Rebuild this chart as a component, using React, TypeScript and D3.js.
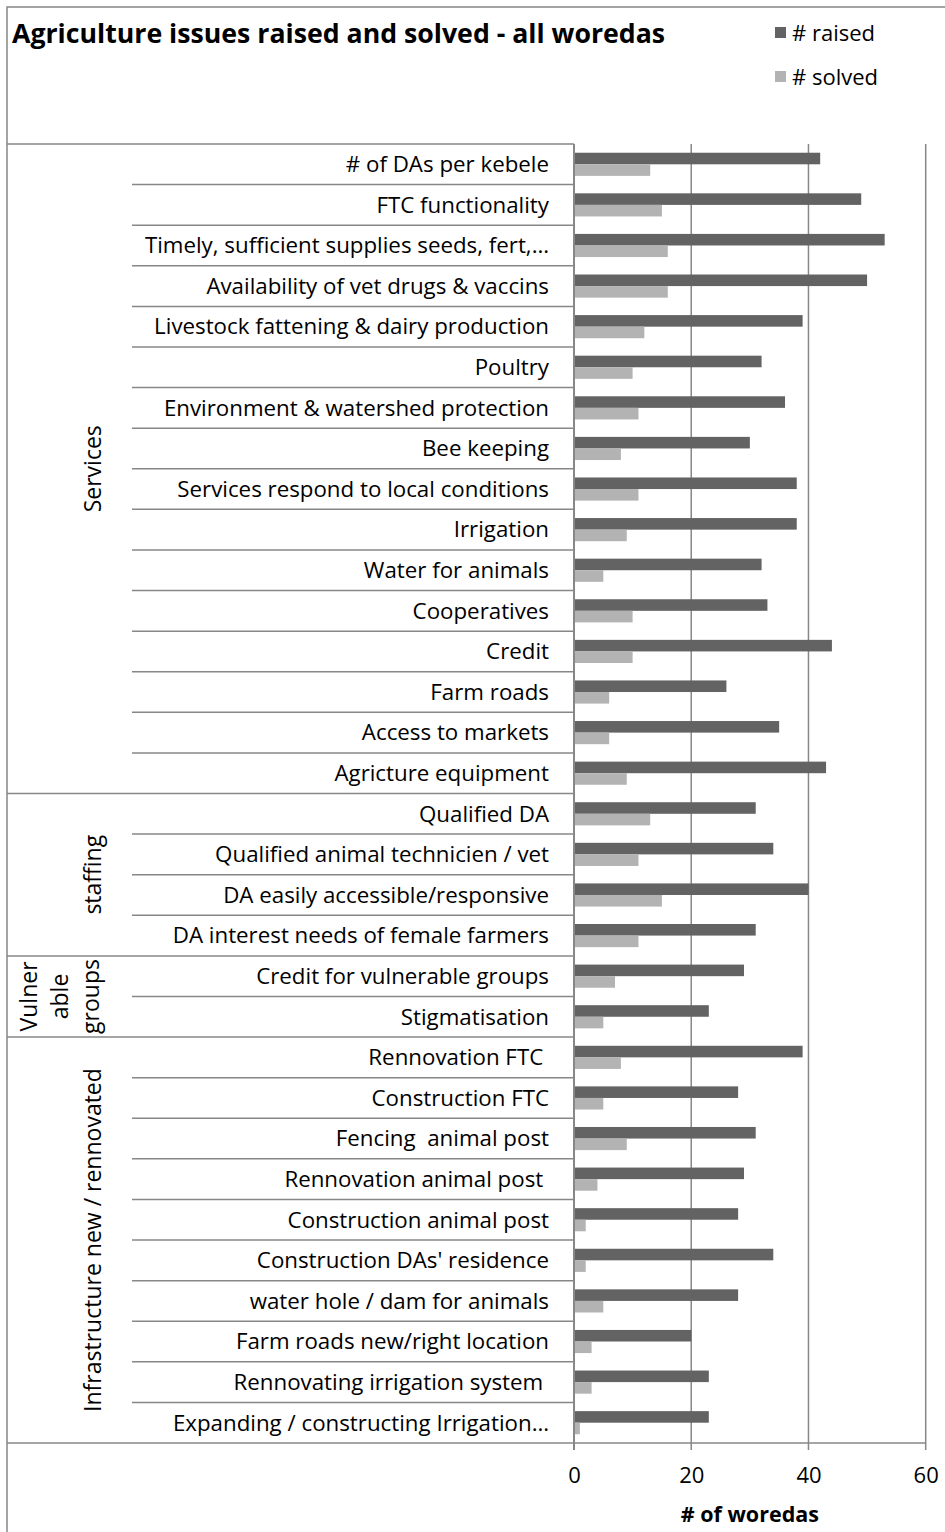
import * as d3 from "d3";
import { useRef, useEffect } from "react";

const categories = [
  "# of DAs per kebele",
  "FTC functionality",
  "Timely, sufficient supplies seeds, fert,…",
  "Availability of vet drugs & vaccins",
  "Livestock fattening & dairy production",
  "Poultry",
  "Environment & watershed protection",
  "Bee keeping",
  "Services respond to local conditions",
  "Irrigation",
  "Water for animals",
  "Cooperatives",
  "Credit",
  "Farm roads",
  "Access to markets",
  "Agricture equipment",
  "Qualified DA",
  "Qualified animal technicien / vet",
  "DA easily accessible/responsive",
  "DA interest needs of female farmers",
  "Credit for vulnerable groups",
  "Stigmatisation",
  "Rennovation FTC ",
  "Construction FTC",
  "Fencing  animal post",
  "Rennovation animal post ",
  "Construction animal post",
  "Construction DAs' residence",
  "water hole / dam for animals",
  "Farm roads new/right location",
  "Rennovating irrigation system ",
  "Expanding / constructing Irrigation…",
];

const raised = [42, 49, 53, 50, 39, 32, 36, 30, 38, 38, 32, 33, 44, 26, 35, 43, 31, 34, 40, 31, 29, 23, 39, 28, 31, 29, 28, 34, 28, 20, 23, 23];
const solved = [13, 15, 16, 16, 12, 10, 11, 8, 11, 9, 5, 10, 10, 6, 6, 9, 13, 11, 15, 11, 7, 5, 8, 5, 9, 4, 2, 2, 5, 3, 3, 1];

// groups: label lines, first row index, row count
const groups = [
  { lines: ["Services"], start: 0, count: 16 },
  { lines: ["staffing"], start: 16, count: 4 },
  { lines: ["Vulner", "able", "groups"], start: 20, count: 2 },
  { lines: ["Infrastructure new / rennovated"], start: 22, count: 10 },
];

const xTicks = [0, 20, 40, 60];
const seriesNames = ["# raised", "# solved"];
const colors = ["#636363", "#b3b3b3"];
const lineColor = "#878787";
const font = "'Open Sans', 'Noto Sans', sans-serif";

const App = () => {
  const ref = useRef<SVGSVGElement | null>(null);

  useEffect(() => {
    document.body.style.margin = "0";
    const svg = d3.select(ref.current);
    svg.selectAll("*").remove();

    const W = 945, H = 1532;
    const plot = { left: 574, right: 925.7, top: 144, bottom: 1443 };

    svg.append("rect").attr("width", W).attr("height", H).attr("fill", "#fff");
    // outer border
    svg.append("rect")
      .attr("x", 7).attr("y", 7).attr("width", W + 10).attr("height", H + 10)
      .attr("fill", "none").attr("stroke", lineColor).attr("stroke-width", 1.5);

    const x = d3.scaleLinear().domain([0, 60]).range([plot.left, plot.right]);
    const y = d3.scaleBand<number>()
      .domain(d3.range(categories.length))
      .range([plot.top, plot.bottom])
      .paddingInner(0.43).paddingOuter(0.215);
    const sub = d3.scaleBand<number>().domain([0, 1]).range([0, y.bandwidth()]);
    const step = y.step();
    const rowTop = (i: number) => plot.top + i * step;

    // gridlines
    svg.append("g").selectAll("line").data(xTicks.slice(1)).join("line")
      .attr("x1", d => x(d)).attr("x2", d => x(d))
      .attr("y1", plot.top).attr("y2", plot.bottom + 7)
      .attr("stroke", lineColor).attr("stroke-width", 1.5);

    // bars
    const series = [raised, solved];
    series.forEach((vals, s) => {
      svg.append("g").selectAll("rect").data(vals).join("rect")
        .attr("x", x(0))
        .attr("y", (_, i) => (y(i) as number) + (sub(s) as number))
        .attr("width", d => x(d) - x(0))
        .attr("height", sub.bandwidth())
        .attr("fill", colors[s]);
    });

    // category axis lines
    const groupStarts = new Set(groups.map(g => g.start));
    const cat = svg.append("g");
    for (let i = 0; i <= categories.length; i++) {
      const isGroup = groupStarts.has(i) || i === categories.length;
      cat.append("line")
        .attr("x1", isGroup ? 7 : 132).attr("x2", plot.left)
        .attr("y1", rowTop(i)).attr("y2", rowTop(i))
        .attr("stroke", lineColor).attr("stroke-width", 1.5);
    }
    cat.selectAll("text.cat").data(categories).join("text")
      .attr("class", "cat")
      .attr("x", 549)
      .attr("y", (_, i) => rowTop(i) + step / 2)
      .attr("dy", "0.35em")
      .attr("text-anchor", "end")
      .style("white-space", "pre")
      .attr("font-family", font).attr("font-size", 22.3)
      .attr("fill", "#000")
      .text(d => d);

    // group labels
    groups.forEach(g => {
      const cy = rowTop(g.start) + (g.count * step) / 2;
      const n = g.lines.length;
      g.lines.forEach((line, k) => {
        const cx = n === 1 ? 93 : 29 + k * 31;
        svg.append("text")
          .attr("transform", `translate(${cx},${cy}) rotate(-90)`)
          .attr("text-anchor", "middle")
          .attr("dy", "0.35em")
          .attr("font-family", font).attr("font-size", 23)
          .text(line);
      });
    });

    // value axis
    svg.append("line")
      .attr("x1", x(0)).attr("x2", x(0))
      .attr("y1", plot.top).attr("y2", plot.bottom + 7)
      .attr("stroke", lineColor).attr("stroke-width", 2);
    svg.append("line")
      .attr("x1", x(0)).attr("x2", plot.right)
      .attr("y1", plot.bottom).attr("y2", plot.bottom)
      .attr("stroke", lineColor).attr("stroke-width", 1.5);

    const axis = svg.append("g")
      .attr("transform", `translate(0,${plot.bottom})`)
      .call(d3.axisBottom(x).tickValues(xTicks).tickSize(0).tickPadding(24));
    axis.select(".domain").remove();
    axis.selectAll("text")
      .attr("font-family", font).attr("font-size", 22).attr("fill", "#000");

    svg.append("text")
      .attr("x", (x(0) + plot.right) / 2).attr("y", 1522)
      .attr("text-anchor", "middle")
      .attr("font-family", font).attr("font-size", 21.5).attr("font-weight", "bold")
      .text("# of woredas");

    // title
    svg.append("text")
      .attr("x", 12).attr("y", 43)
      .attr("font-family", font).attr("font-size", 26.7).attr("font-weight", "bold")
      .text("Agriculture issues raised and solved - all woredas");

    // legend
    const legend = svg.append("g");
    seriesNames.forEach((name, s) => {
      const ly = 33 + s * 44;
      legend.append("rect")
        .attr("x", 775).attr("y", ly - 6).attr("width", 11).attr("height", 11)
        .attr("fill", colors[s]);
      legend.append("text")
        .attr("x", 792).attr("y", ly).attr("dy", "0.35em")
        .attr("font-family", font).attr("font-size", 22)
        .text(name);
    });
  }, []);

  return <svg ref={ref} width={945} height={1532} style={{ display: "block" }} />;
};

export default App;
